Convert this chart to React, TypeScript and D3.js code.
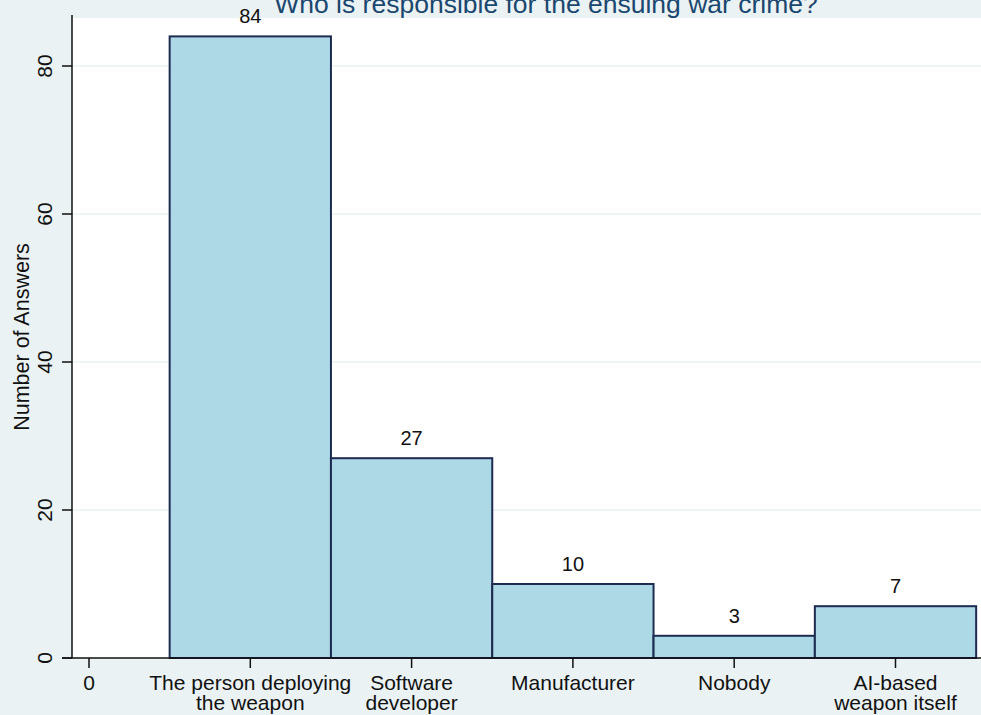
import React from "react";
import * as d3 from "d3";

const categories = [
  ["The person deploying", "the weapon"],
  ["Software", "developer"],
  ["Manufacturer"],
  ["Nobody"],
  ["AI-based", "weapon itself"],
];
const counts = [84, 27, 10, 3, 7];
const yTicks = [0, 20, 40, 60, 80];
const title = "Who is responsible for the ensuing war crime?";
const yTitle = "Number of Answers";

const W = 981;
const H = 715;
const FONT = "'Liberation Sans', Arial, Helvetica, sans-serif";

export default function App() {
  const left = 72;
  const right = 981;
  const top = 15;
  const bottom = 658;
  const x = d3.scaleLinear().domain([0, 1]).range([89, 250.3]);
  const y = d3.scaleLinear().domain([0, 80]).range([bottom, 66]);
  const xTicks = [0, 1, 2, 3, 4, 5];

  return (
    <svg
      width={W}
      height={H}
      style={{ position: "absolute", left: 0, top: 0, display: "block" }}
      fontFamily={FONT}
    >
      <rect x={0} y={0} width={W} height={H} fill="#eaf2f3" />
      <rect x={left} y={18} width={right - left} height={bottom - 18} fill="#ffffff" />
      {yTicks
        .filter((t) => t > 0)
        .map((t) => (
          <line key={"g" + t} x1={left} x2={right} y1={y(t)} y2={y(t)} stroke="#eaf2f3" strokeWidth={1.5} />
        ))}
      {counts.map((c, i) => {
        const k = i + 1;
        const x0 = x(k - 0.5);
        const x1 = x(k + 0.5);
        return (
          <g key={"b" + i}>
            <rect
              x={x0}
              y={y(c)}
              width={x1 - x0}
              height={bottom - y(c)}
              fill="#add8e6"
              stroke="#1c2b4f"
              strokeWidth={2}
            />
            <text x={x(k)} y={y(c) - 13} textAnchor="middle" fontSize={20} fill="#111">
              {String(c)}
            </text>
          </g>
        );
      })}
      {/* axes */}
      <line x1={left} x2={left} y1={top} y2={bottom} stroke="#111" strokeWidth={1.5} />
      <line x1={left - 10} x2={right} y1={bottom} y2={bottom} stroke="#111" strokeWidth={1.5} />
      {yTicks.map((t) => (
        <g key={"yt" + t}>
          <line x1={left - 10} x2={left} y1={y(t)} y2={y(t)} stroke="#111" strokeWidth={1.5} />
          <text
            transform={`translate(${51.5},${y(t)}) rotate(-90)`}
            textAnchor="middle"
            fontSize={21}
            fill="#111"
          >
            {String(t)}
          </text>
        </g>
      ))}
      {xTicks.map((t) => (
        <g key={"xt" + t}>
          <line x1={x(t)} x2={x(t)} y1={bottom} y2={bottom + 10} stroke="#111" strokeWidth={1.5} />
          {(t === 0 ? ["0"] : categories[t - 1]).map((line, j) => (
            <text key={j} x={x(t)} y={690 + j * 20} textAnchor="middle" fontSize={21} fill="#111">
              {line}
            </text>
          ))}
        </g>
      ))}
      <text
        transform={`translate(${29},${337}) rotate(-90)`}
        textAnchor="middle"
        fontSize={21.5}
        fill="#111"
      >
        {yTitle}
      </text>
      <text x={546} y={13} textAnchor="middle" fontSize={26.5} fill="#1a476f">
        {title}
      </text>
    </svg>
  );
}
